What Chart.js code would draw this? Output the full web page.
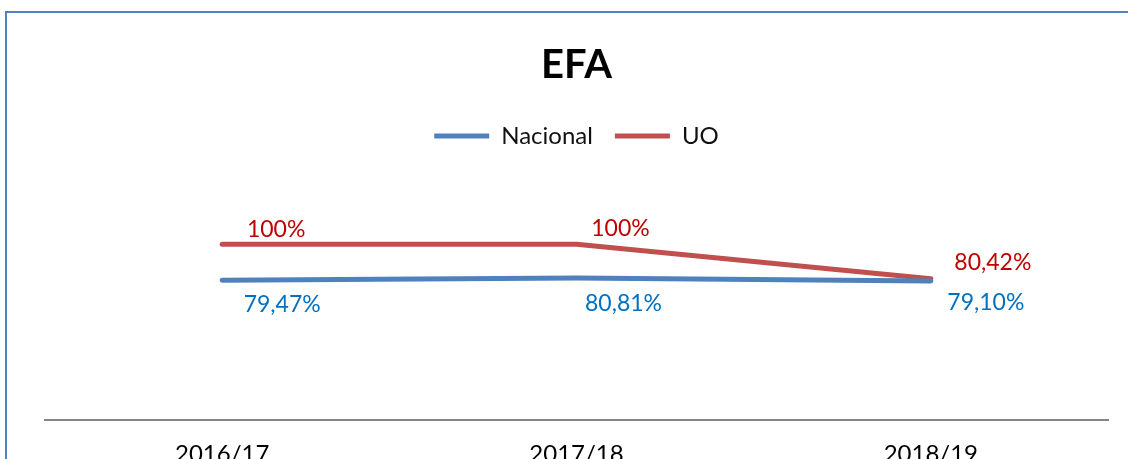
<!DOCTYPE html>
<html>
<head>
<meta charset="utf-8">
<script src="https://cdn.jsdelivr.net/npm/chart.js@4/dist/chart.umd.min.js"></script>
<style>
    html, body { margin: 0; padding: 0; overflow: hidden; background: #fff; }
    .frame {
        position: absolute; left: 5px; top: 11px; width: 1200px; height: 520px;
        border: 2px solid #4F81BD; box-sizing: border-box;
    }
    .wrap { position: absolute; left: 0; top: 0; width: 1128px; height: 489px; }
</style>
</head>
<body>
<div class="frame"></div>
<div class="wrap"><canvas id="chart" width="1128" height="489"></canvas></div>
<script>
    const categories = ['2016/17', '2017/18', '2018/19'];
    const nacional = [79.47, 80.81, 79.10];
    const uo = [100, 100, 80.42];

    // deslocamento manual dos rótulos (como no gráfico original)
    const labelOffsets = [
        [[60, 24], [47, 26], [55, 22]],
        [[54, -15], [44, -16], [62, -16]]
    ];
    const labelColors = ['#0070C0', '#C00000'];

    function fmt(v) {
        if (v === 100) return '100%';
        return v.toFixed(2).replace('.', ',') + '%';
    }

    const dataLabels = {
        id: 'dataLabels',
        afterDatasetsDraw(chart) {
            const ctx = chart.ctx;
            ctx.save();
            ctx.font = '23px Lato';
            ctx.textAlign = 'center';
            ctx.textBaseline = 'middle';
            chart.data.datasets.forEach((ds, i) => {
                const meta = chart.getDatasetMeta(i);
                ctx.fillStyle = labelColors[i];
                meta.data.forEach((pt, j) => {
                    const off = labelOffsets[i][j];
                    ctx.fillText(fmt(ds.data[j]), pt.x + off[0], pt.y + off[1]);
                });
            });
            ctx.restore();
        }
    };

    const ctx = document.getElementById('chart').getContext('2d');
    new Chart(ctx, {
        type: 'line',
        data: {
            labels: categories,
            datasets: [
                {
                    label: 'Nacional',
                    data: nacional,
                    borderColor: '#4F81BD',
                    backgroundColor: '#4F81BD',
                    borderWidth: 5,
                    borderCapStyle: 'round',
                    borderJoinStyle: 'round',
                    pointRadius: 0,
                    tension: 0
                },
                {
                    label: 'UO',
                    data: uo,
                    borderColor: '#C0504D',
                    backgroundColor: '#C0504D',
                    borderWidth: 5,
                    borderCapStyle: 'round',
                    borderJoinStyle: 'round',
                    pointRadius: 0,
                    tension: 0
                }
            ]
        },
        options: {
            responsive: false,
            animation: false,
            layout: { padding: { left: 45, right: 20, top: 0, bottom: 0 } },
            plugins: {
                title: {
                    display: true,
                    text: 'EFA',
                    color: '#000',
                    font: { family: 'Lato', size: 40, weight: 'bold' },
                    padding: { top: 41, bottom: 13 }
                },
                legend: {
                    display: true,
                    labels: {
                        usePointStyle: true,
                        pointStyle: 'line',
                        pointStyleWidth: 55,
                        padding: 22,
                        color: '#111',
                        font: { family: 'Lato', size: 24 }
                    }
                },
                tooltip: { enabled: false }
            },
            scales: {
                x: {
                    offset: true,
                    grid: { display: false, drawTicks: false },
                    border: { display: true, color: '#868686', width: 2 },
                    ticks: {
                        color: '#000',
                        padding: 20,
                        font: { family: 'Lato', size: 24 }
                    }
                },
                y: {
                    display: false,
                    min: 0,
                    max: 149
                }
            }
        },
        plugins: [dataLabels]
    });
</script>
</body>
</html>
